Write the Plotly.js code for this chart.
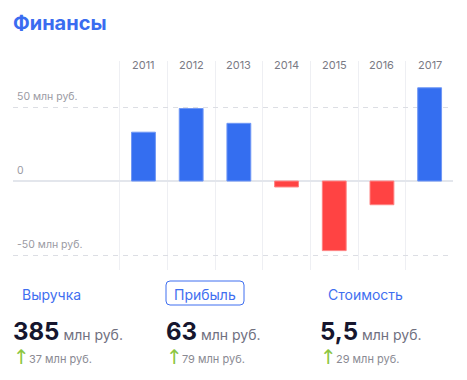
<!DOCTYPE html>
<html>
<head>
<meta charset="utf-8">
<script src="https://cdn.plot.ly/plotly-3.0.1.min.js"></script>
<style>
html,body{margin:0;padding:0;background:#fff;}
#chart{width:467px;height:380px;}
</style>
</head>
<body>
<div id="chart"></div>
<script>
// ---- data ----
var years = [2011, 2012, 2013, 2014, 2015, 2016, 2017];
var profit = [33, 49, 39, -4, -47, -16, 63];
var yTickVals = [50, 0, -50];
var yTickText = ['50 млн руб.', '0', '-50 млн руб.'];
var metricNames = ['Выручка', 'Прибыль', 'Стоимость'];
var metricValues = ['385', '63', '5,5'];
var metricDeltas = ['37 млн руб.', '79 млн руб.', '29 млн руб.'];
var unitText = 'млн руб.';

// ---- styling ----
var FONT = 'Inter, Roboto, "Open Sans", sans-serif';
var BLUE = '#346ef0', RED = '#ff4343';
var W = 467, H = 380, L = 13, R = 14, T = 61, B = 110;
var plotW = W - L - R, plotH = H - T - B;
function px(x) { return (x - L) / plotW; }
function py(y) { return (H - B - y) / plotH; }

var colors = profit.map(function (v) { return v >= 0 ? BLUE : RED; });
var lineColors = profit.map(function (v) { return v >= 0 ? '#6f97f5' : '#ff8080'; });

var trace = {
  type: 'bar', x: years, y: profit, width: 0.5,
  marker: { color: colors, line: { color: lineColors, width: 1 } },
  hoverinfo: 'none'
};

var annotations = [];
// year labels
years.forEach(function (yr) {
  annotations.push({ xref: 'x', yref: 'paper', x: yr, y: py(65), text: String(yr),
    showarrow: false, xanchor: 'center', yanchor: 'middle',
    font: { family: FONT, size: 11, color: '#7a7a85' } });
});
// y labels
yTickVals.forEach(function (v, i) {
  annotations.push({ xref: 'paper', yref: 'y', x: px(15), y: v, text: yTickText[i],
    showarrow: false, xanchor: 'left', yanchor: 'bottom', yshift: 2,
    font: { family: FONT, size: 10.5, color: '#9a9aa3' } });
});
// metrics
var colX = [13, 166, 320];
var nameCX = [51, 205, 365];
metricNames.forEach(function (n, i) {
  annotations.push({ xref: 'paper', yref: 'paper', x: px(nameCX[i]), y: py(294), text: n,
    showarrow: false, xanchor: 'center', yanchor: 'middle',
    font: { family: FONT, size: 14, color: '#3f6ff0' } });
  annotations.push({ xref: 'paper', yref: 'paper', x: px(colX[i] - 2), y: py(331),
    text: '<b>' + metricValues[i] + '</b><span style="font-size:14px;color:#707080"> ' + unitText + '</span>',
    showarrow: false, xanchor: 'left', yanchor: 'middle',
    font: { family: FONT, size: 24, color: '#16162e' } });
  annotations.push({ xref: 'paper', yref: 'paper', x: px(colX[i] - 2), y: py(357),
    text: '↑', showarrow: false, xanchor: 'left', yanchor: 'middle',
    font: { family: '"DejaVu Sans", sans-serif', size: 20, color: '#8cc63f' } });
  annotations.push({ xref: 'paper', yref: 'paper', x: px(colX[i] + 14), y: py(359),
    text: metricDeltas[i], showarrow: false, xanchor: 'left', yanchor: 'middle',
    font: { family: FONT, size: 11, color: '#8a8a93' } });
});

// rounded box around active tab
var bx0 = px(166), bx1 = px(244), by0 = py(305), by1 = py(281);
var rx = 4 / plotW, ry = 4 / plotH;
var boxPath = 'M ' + (bx0 + rx) + ',' + by0 + ' L ' + (bx1 - rx) + ',' + by0 +
  ' Q ' + bx1 + ',' + by0 + ' ' + bx1 + ',' + (by0 + ry) +
  ' L ' + bx1 + ',' + (by1 - ry) + ' Q ' + bx1 + ',' + by1 + ' ' + (bx1 - rx) + ',' + by1 +
  ' L ' + (bx0 + rx) + ',' + by1 + ' Q ' + bx0 + ',' + by1 + ' ' + bx0 + ',' + (by1 - ry) +
  ' L ' + bx0 + ',' + (by0 + ry) + ' Q ' + bx0 + ',' + by0 + ' ' + (bx0 + rx) + ',' + by0 + ' Z';

var layout = {
  width: W, height: H,
  margin: { l: L, r: R, t: T, b: B, pad: 0 },
  paper_bgcolor: '#fff', plot_bgcolor: '#fff',
  showlegend: false,
  title: { text: '<b>Финансы</b>', xref: 'container', yref: 'container',
    x: 13 / W, xanchor: 'left', y: 1 - 23 / H, yanchor: 'middle',
    font: { family: FONT, size: 20, color: '#3a6cf0' } },
  xaxis: {
    range: [2008.264, 2017.49], tickvals: [2010.5, 2011.5, 2012.5, 2013.5, 2014.5, 2015.5, 2016.5],
    showticklabels: false, ticks: '', showgrid: true, gridcolor: '#eeeff3', gridwidth: 1,
    zeroline: false, showline: false, fixedrange: true
  },
  yaxis: {
    range: [-60.1, 81.1], tickvals: [-50, 0, 50], showticklabels: false, ticks: '',
    showgrid: true, gridcolor: '#dcdee4', gridwidth: 1, griddash: '5px,5px',
    zeroline: true, zerolinecolor: '#e3e6ec', zerolinewidth: 2, showline: false, fixedrange: true
  },
  shapes: [{ type: 'path', xref: 'paper', yref: 'paper', path: boxPath,
    line: { color: '#3f6ff0', width: 1 }, fillcolor: 'rgba(0,0,0,0)' }],
  annotations: annotations
};

Plotly.newPlot('chart', [trace], layout, { displayModeBar: false, staticPlot: true });
</script>
</body>
</html>
